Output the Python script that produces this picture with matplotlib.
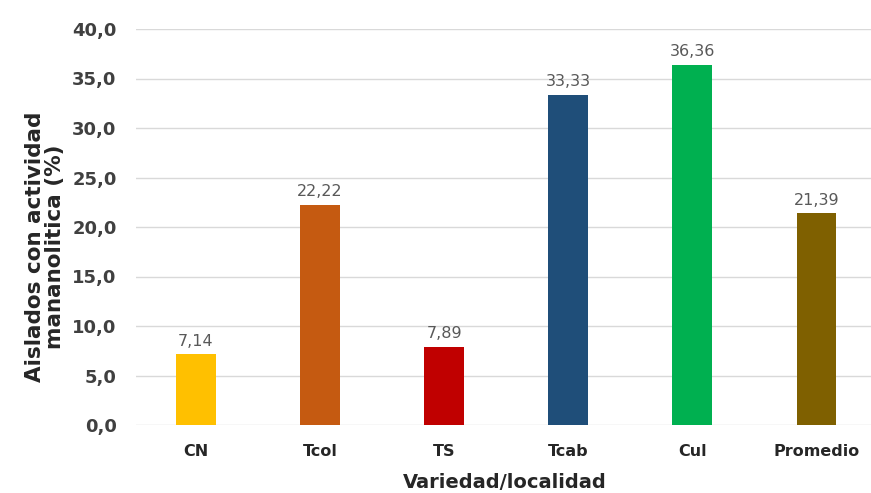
import matplotlib
matplotlib.use("Agg")
import matplotlib.pyplot as plt
from matplotlib.ticker import FuncFormatter

# Data
categories = ["CN", "Tcol", "TS", "Tcab", "Cul", "Promedio"]
values = [7.14, 22.22, 7.89, 33.33, 36.36, 21.39]
colors = ["#FFC000", "#C55A11", "#C00000", "#1F4E79", "#00B050", "#7F6000"]
y_ticks = [0, 5, 10, 15, 20, 25, 30, 35, 40]

fig = plt.figure(figsize=(8.71, 4.93), dpi=100)
ax = fig.add_axes([136 / 871, 1 - 425 / 493, 1 - 136 / 871, (425 - 29) / 493])

x = list(range(len(categories)))
bars = ax.bar(x, values, width=0.32, color=colors, zorder=3)

for xi, v in zip(x, values):
    ax.annotate(f"{v:.2f}".replace(".", ","), (xi, v), xytext=(0, 4),
                textcoords="offset points", ha="center", va="bottom",
                fontsize=11.5, color="#595959", family="DejaVu Sans")

ax.set_ylim(0, 40)
ax.set_xlim(-0.484, 5.44)
ax.set_yticks(y_ticks)
ax.yaxis.set_major_formatter(FuncFormatter(lambda v, p: f"{v:.1f}".replace(".", ",")))
ax.grid(axis="y", color="#D9D9D9", linewidth=1, zorder=0)
for s in ax.spines.values():
    s.set_visible(False)
ax.tick_params(axis="both", length=0)
ax.tick_params(axis="y", pad=14)
ax.tick_params(axis="x", pad=14)
ax.set_xticks(x)
ax.set_xticklabels(categories)
for lbl in ax.get_xticklabels():
    lbl.set_fontsize(11.5)
    lbl.set_fontweight("bold")
    lbl.set_family("DejaVu Sans")
    lbl.set_color("#262626")
for lbl in ax.get_yticklabels():
    lbl.set_fontsize(13)
    lbl.set_fontweight("bold")
    lbl.set_family("DejaVu Sans")
    lbl.set_color("#404040")

fig.text(505 / 871, 1 - 483 / 493, "Variedad/localidad", ha="center", va="center",
         fontsize=14, fontweight="bold", family="DejaVu Sans", color="#262626")
fig.text(45 / 871, 1 - 247 / 493, "Aislados con actividad\nmananolitica (%)", ha="center",
         va="center", rotation=90, fontsize=15.5, fontweight="bold", family="DejaVu Sans",
         color="#262626", linespacing=1.05)

fig.savefig("out.png", dpi=100)
